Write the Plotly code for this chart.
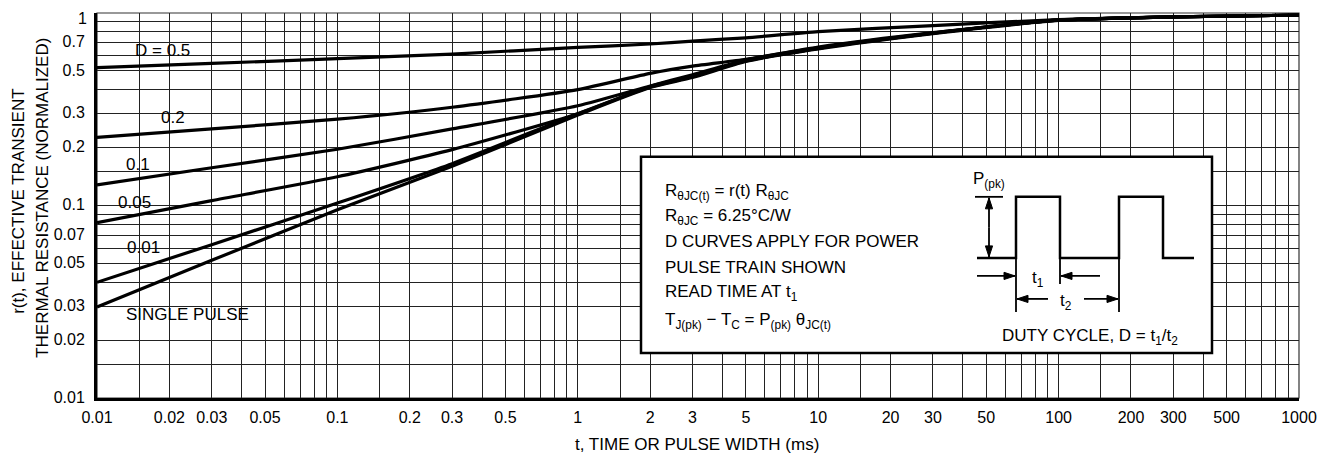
import numpy as np
import plotly.graph_objects as go

# ---------------- data ----------------
t_ms = [0.01, 0.03, 0.1, 0.3, 1, 2, 3, 5, 10, 30, 100, 300, 1000]
r_d05 = [0.52, 0.547, 0.579, 0.612, 0.663, 0.69, 0.715, 0.743, 0.80, 0.86, 0.925, 0.955, 0.975]
r_d02 = [0.226, 0.25, 0.281, 0.324, 0.40, 0.486, 0.53, 0.575, 0.665, 0.79, 0.92, 0.955, 0.975]
r_d01 = [0.128, 0.157, 0.196, 0.25, 0.33, 0.418, 0.478, 0.57, 0.66, 0.787, 0.918, 0.955, 0.975]
r_d005 = [0.0814, 0.106, 0.141, 0.195, 0.30, 0.415, 0.47, 0.565, 0.655, 0.785, 0.918, 0.955, 0.975]
r_d001 = [0.0399, 0.0626, 0.103, 0.165, 0.30, 0.413, 0.467, 0.563, 0.655, 0.785, 0.918, 0.955, 0.975]
r_single = [0.0297, 0.0519, 0.095, 0.16, 0.295, 0.41, 0.462, 0.56, 0.65, 0.78, 0.915, 0.955, 0.975]

curve_names = ["D = 0.5", "0.2", "0.1", "0.05", "0.01", "SINGLE PULSE"]

x_tick_labels = ["0.01", "0.02", "0.03", "0.05", "0.1", "0.2", "0.3", "0.5", "1", "2", "3",
                 "5", "10", "20", "30", "50", "100", "200", "300", "500", "1000"]
y_tick_labels = ["0.01", "0.02", "0.03", "0.05", "0.07", "0.1", "0.2", "0.3", "0.5", "0.7", "1"]
grid_mults = [1, 1.5, 2, 3, 4, 5, 6, 7, 8, 9]

FONT = "Liberation Sans, Arial, sans-serif"
FS = 17

# ---------------- helpers for layout positions (page pixel -> paper) ----------------
PAGE_OFF = 8                      # default body margin of the html page
L, R, T, B = 97, 1299, 13.3, 398  # plot area in page pixels
W, H = 1328 - PAGE_OFF, 457 - PAGE_OFF


def px(x):
    return (x - L) / (R - L)


def py(y):
    return (B - y) / (B - T)


def grid_vals(lo_dec, hi_dec):
    vals = []
    for d in range(lo_dec, hi_dec):
        for m in grid_mults:
            vals.append(round(m * 10.0 ** d, 6))
    vals.append(round(10.0 ** hi_dec, 6))
    return vals


xv_all = grid_vals(-2, 3)
yv_all = grid_vals(-2, 0)
xv_major = [float(s) for s in x_tick_labels]
# the top label "1" sits on the figure edge, so it is drawn as an annotation below
y_axis_labels = y_tick_labels[:-1]
yv_major = [float(s) for s in y_axis_labels]
xv_minor = [v for v in xv_all if not any(np.isclose(v, xv_major))]
yv_minor = [v for v in yv_all if not any(np.isclose(v, yv_major))]

fig = go.Figure()
for name, ys in zip(curve_names, [r_d05, r_d02, r_d01, r_d005, r_d001, r_single]):
    fig.add_trace(go.Scatter(x=t_ms, y=ys, mode="lines", name=name,
                             line=dict(color="black", width=3.2, shape="spline", smoothing=0.6),
                             showlegend=False, hoverinfo="x+y+name"))

shapes = []
annots = []


def text(txt, x, y, xanchor="center", size=FS, angle=0):
    annots.append(dict(text=txt, xref="paper", yref="paper", x=px(x), y=py(y),
                       xanchor=xanchor, yanchor="middle", showarrow=False, textangle=angle,
                       font=dict(family=FONT, size=size, color="black")))


# top y tick label
text(y_tick_labels[-1], 89, 19, xanchor="right", size=16)

# white gaps behind curve labels (between grid and traces)
label_boxes = [
    ("D = 0.5", 123, 198, 38, 58, 162, 51),
    ("0.2", 152, 193, 108, 128, 173, 118),
    ("0.1", 121, 160, 155, 175, 138, 165),
    ("0.05", 110, 160, 193, 213, 134, 203),
    ("0.01", 115, 170, 238, 258, 143, 248),
    ("SINGLE PULSE", 113, 256, 301, 330, 187, 315),
]
for txt, x0, x1, y0, y1, cx, cy in label_boxes:
    shapes.append(dict(type="rect", xref="paper", yref="paper", x0=px(x0), x1=px(x1),
                       y0=py(y1), y1=py(y0), fillcolor="white", line=dict(width=0),
                       layer="between"))
    text(txt, cx, cy)

# plot border (thin top/right)
shapes.append(dict(type="rect", xref="paper", yref="paper", x0=0, x1=1, y0=0, y1=1,
                   line=dict(color="#333", width=1.2), layer="between"))

# inset box
bx0, bx1, by0, by1 = 641, 1212, 157, 353
shapes.append(dict(type="rect", xref="paper", yref="paper", x0=px(bx0), x1=px(bx1),
                   y0=py(by1), y1=py(by0), fillcolor="white",
                   line=dict(color="black", width=2.5), layer="above"))

inset_lines = [
    ("R<sub>θJC(t)</sub> = r(t) R<sub>θJC</sub>", 192),
    ("R<sub>θJC</sub> = 6.25°C/W", 217),
    ("D CURVES APPLY FOR POWER", 242),
    ("PULSE TRAIN SHOWN", 268),
    ("READ TIME AT t<sub>1</sub>", 293),
    ("T<sub>J(pk)</sub> − T<sub>C</sub> = P<sub>(pk)</sub> θ<sub>JC(t)</sub>", 321),
]
for txt, yy in inset_lines:
    text(txt, 663, yy, xanchor="left")

text("DUTY CYCLE, D = t<sub>1</sub>/t<sub>2</sub>", 1090, 337)

# pulse train
pts = [(977, 258), (1016, 258), (1016, 197), (1060, 197), (1060, 258), (1119, 258),
       (1119, 197), (1163, 197), (1163, 258), (1194, 258)]
path = "M " + " L ".join(f"{px(a):.5f},{py(b):.5f}" for a, b in pts)
shapes.append(dict(type="path", xref="paper", yref="paper", path=path,
                   line=dict(color="black", width=2.5), layer="above"))


def seg(x0, y0, x1, y1, w=1.8):
    shapes.append(dict(type="line", xref="paper", yref="paper", x0=px(x0), y0=py(y0),
                       x1=px(x1), y1=py(y1), line=dict(color="black", width=w), layer="above"))


def head(xh, yh, dx, dy, ln=11, hw=3.6):
    n = np.hypot(dx, dy)
    ux, uy = dx / n, dy / n
    bx, by = xh - ux * ln, yh - uy * ln
    p1 = (bx - uy * hw, by + ux * hw)
    p2 = (bx + uy * hw, by - ux * hw)
    pp = f"M {px(xh):.5f},{py(yh):.5f} L {px(p1[0]):.5f},{py(p1[1]):.5f} L {px(p2[0]):.5f},{py(p2[1]):.5f} Z"
    shapes.append(dict(type="path", xref="paper", yref="paper", path=pp,
                       fillcolor="black", line=dict(color="black", width=1), layer="above"))


def arrow(xt, yt, xh, yh):
    seg(xt, yt, xh, yh)
    head(xh, yh, xh - xt, yh - yt)


seg(975, 197, 1003, 197)       # P(pk) top bar
seg(1016, 258, 1016, 312)      # t1/t2 left extension
seg(1060, 258, 1060, 284)      # t1 right extension
seg(1119, 258, 1119, 312)      # t2 right extension

arrow(989, 228, 989, 198)      # P(pk) double arrow (up)
arrow(989, 228, 989, 257)      # P(pk) double arrow (down)
arrow(977, 276, 1015, 276)     # t1 left arrow
arrow(1100, 276, 1061, 276)    # t1 right arrow
arrow(1048, 299, 1017, 299)    # t2 left arrow
arrow(1084, 299, 1118, 299)    # t2 right arrow

text("P<sub>(pk)</sub>", 989, 180)
text("t<sub>1</sub>", 1038, 279)
text("t<sub>2</sub>", 1066, 302)

# axis titles
text("t, TIME OR PULSE WIDTH (ms)", 697, 444)
text("r(t), EFFECTIVE TRANSIENT", 19, 202, angle=-90)
text("THERMAL RESISTANCE (NORMALIZED)", 43, 198, angle=-90)

fig.update_layout(
    width=W, height=H,
    margin=dict(l=L - PAGE_OFF, r=W + PAGE_OFF - R, t=T - PAGE_OFF, b=H + PAGE_OFF - B,
                autoexpand=False),
    paper_bgcolor="white", plot_bgcolor="white",
    shapes=shapes, annotations=annots,
    font=dict(family=FONT, size=16, color="black"),
    xaxis=dict(type="log", range=[-2, 3], tickmode="array", tickvals=xv_major,
               ticktext=x_tick_labels, ticks="", showgrid=True, automargin=False,
               gridcolor="#222", gridwidth=1, showline=True, linecolor="black", linewidth=3,
               zeroline=False, ticklabelstandoff=3, tickangle=0, ticklabeloverflow="allow",
               minor=dict(tickvals=xv_minor, showgrid=True, gridcolor="#222", gridwidth=1, ticks=""),
               tickfont=dict(family=FONT, size=16, color="black")),
    yaxis=dict(type="log", range=[-2, 0], tickmode="array", tickvals=yv_major,
               ticktext=y_axis_labels, ticks="", showgrid=True, automargin=False,
               gridcolor="#222", gridwidth=1, showline=True, linecolor="black", linewidth=3,
               zeroline=False, ticklabelstandoff=6, ticklabelshift=-1, ticklabeloverflow="allow",
               minor=dict(tickvals=yv_minor, showgrid=True, gridcolor="#222", gridwidth=1, ticks=""),
               tickfont=dict(family=FONT, size=16, color="black")),
)

fig.write_html("out.html")
